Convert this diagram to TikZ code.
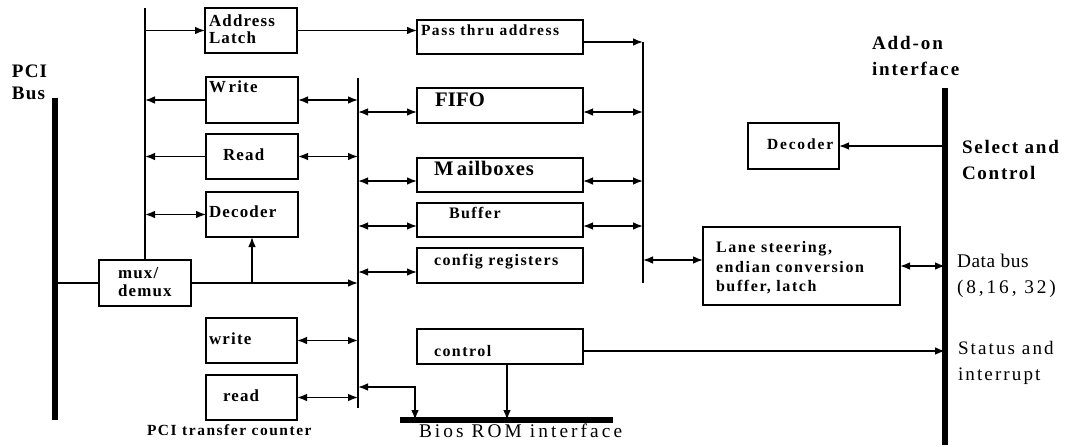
\documentclass[tikz,border=0pt]{standalone}
\usepackage{fontspec}
\setmainfont{Liberation Serif}
\usetikzlibrary{arrows.meta,calc}
\newcommand\lbfont[3]{\fontsize{#1}{#2}\selectfont\addfontfeature{LetterSpace=#3}}
\newcommand\mkbox[5]{\node[boxst, minimum width={(#4-#2)*0.75pt}, minimum height={(#5-#3)*0.75pt}] (#1) at (#2,#3) {};}
\tikzset{
  ln/.style={line width=1.25pt},
  busln/.style={line width=3.8pt},
  boxst/.style={draw, line width=1.15pt, inner sep=0pt, outer sep=0pt, anchor=north west},
  arw/.style={-{Latex[length=7.5pt,width=5.8pt]}},
  darw/.style={{Latex[length=7.5pt,width=5.8pt]}-{Latex[length=7.5pt,width=5.8pt]}},
  lbl/.style={inner sep=0pt, outer sep=0pt, anchor=mid west, align=left},
  bt/.style={font={\bfseries\lbfont{12.7}{13}{7}}},
}
\begin{document}
\begin{tikzpicture}[x=0.75pt,y=-0.75pt]
\useasboundingbox (0,0) rectangle (1073,446);
% boxes
\mkbox{alatch}{205}{8}{297}{53}
\mkbox{write}{206}{77}{298}{123}
\mkbox{read}{206}{134}{298}{179}
\mkbox{ldec}{206}{192}{298}{237}
\mkbox{mux}{99}{260}{191}{306}
\mkbox{wr2}{206}{318}{297}{363}
\mkbox{rd2}{206}{375}{297}{420}
\mkbox{pass}{417}{20}{583}{54}
\mkbox{fifo}{417}{88}{583}{123}
\mkbox{mail}{417}{158}{583}{192}
\mkbox{buf}{417}{203}{583}{237}
\mkbox{cfg}{417}{248}{583}{283}
\mkbox{ctrl}{417}{329}{583}{364}
\mkbox{lane}{703}{227}{900}{305}
\mkbox{rdec}{748}{123}{839}{169}
% bus end points
\coordinate (pciT) at (55,98);  \coordinate (pciB) at (55,420);
\coordinate (lbT) at (145,8);
\coordinate (mbT) at (358,78);  \coordinate (mbB) at (358,408);
\coordinate (b2T) at (643,42);  \coordinate (b2B) at (643,283);
\coordinate (aoT) at (945,88);  \coordinate (aoB) at (945,445);
\coordinate (romL) at (400,420); \coordinate (romR) at (613,420);
% buses
\draw[busln] (pciT) -- (pciB);
\draw[busln] (aoT) -- (aoB);
\draw[busln] (romL) -- (romR);
\draw[ln] (lbT) -- (lbT |- mux.north);
\draw[ln] (mbT) -- (mbB);
\draw[ln] (b2T) -- (b2B);
% left side connectors
\draw[ln,arw] (lbT |- alatch.west) -- (alatch.west);
\draw[ln,arw] (alatch.east) -- (pass.west |- alatch.east);
\draw[ln,arw] (write.west) -- (lbT |- write.west);
\draw[ln,darw] (write.east) -- (mbT |- write.east);
\draw[ln,arw] (read.west) -- (lbT |- read.west);
\draw[ln,darw] (read.east) -- (mbT |- read.east);
\draw[ln,darw] (lbT |- ldec.west) -- (ldec.west);
\draw[ln] (pciT |- mux.west) -- (mux.west);
\draw[ln,arw] (mux.east) -- (mbT |- mux.east);
\draw[ln,arw] (ldec.south |- mux.east) -- (ldec.south);
\draw[ln,darw] (wr2.east) -- (mbT |- wr2.east);
\draw[ln,darw] (rd2.east) -- (mbT |- rd2.east);
% middle bus to right boxes
\coordinate (cf) at ($(fifo.south west)+(0,-11)$);
\coordinate (cm) at ($(mail.south west)+(0,-11)$);
\coordinate (cb) at ($(buf.south west)+(0,-11)$);
\coordinate (cc) at ($(cfg.south west)+(0,-11)$);
\draw[ln,darw] (mbT |- cf) -- (cf);
\draw[ln,darw] (mbT |- cm) -- (cm);
\draw[ln,darw] (mbT |- cb) -- (cb);
\draw[ln,darw] (mbT |- cc) -- (cc);
\coordinate (pf) at ($(fifo.south east)+(0,-11)$);
\coordinate (pm) at ($(mail.south east)+(0,-11)$);
\coordinate (pb) at ($(buf.south east)+(0,-11)$);
\coordinate (pp) at ($(pass.south east)+(0,-12)$);
\draw[ln,arw] (pp) -- (b2T |- pp);
\draw[ln,darw] (pf) -- (b2T |- pf);
\draw[ln,darw] (pm) -- (b2T |- pm);
\draw[ln,darw] (pb) -- (b2T |- pb);
\coordinate (lw) at ($(lane.west)+(0,-6)$);
\draw[ln,darw] (b2T |- lw) -- (lw);
\draw[ln,darw] (lane.east) -- (aoT |- lane.east);
\draw[ln,arw] (aoT |- rdec.east) -- (rdec.east);
\coordinate (ce) at ($(ctrl.south east)+(0,-13)$);
\draw[ln,arw] (ce) -- (aoT |- ce);
\coordinate (cs) at ($(ctrl.south)+(7,0)$);
\draw[ln,arw] (cs) -- (cs |- romL);
\coordinate (mr) at ($(romL)+(15,0)$);
\coordinate (mm) at ($(rd2.north)+(0,12)$);
\draw[ln,darw] (mbT |- mm) -- (mr |- mm) -- (mr);
% texts
\node[lbl, anchor=west, font={\bfseries\lbfont{14.3}{16.5}{6}}] (tpci) at (12,82) {PCI\\Bus};
\node[lbl, anchor=west, font={\bfseries\lbfont{12.7}{12.75}{7}}] (talatch) at (209,29.5) {Address\\Latch};
\node[lbl, bt] (twrite) at (209,89) {W\kern2pt rite};
\node[lbl, bt] (tread) at (223,157) {Read};
\node[lbl, bt] (tldec) at (209,214) {Decoder};
\node[lbl, anchor=west, font={\bfseries\lbfont{12.7}{13.5}{7}}] (tmux) at (118,282) {mux/\\demux};
\node[lbl, bt] (twr2) at (209,341) {write};
\node[lbl, bt] (trd2) at (223,398) {read};
\node[lbl, font={\bfseries\lbfont{11.6}{13}{10}}] (tcnt) at (147,432) {PCI transfer counter};
\node[lbl, font={\bfseries\lbfont{11.6}{13}{10}}] (tpass) at (421,32) {Pass thru address};
\node[lbl, font={\bfseries\lbfont{15.5}{17}{1}}] (tfifo) at (435,103) {FIFO};
\node[lbl, font={\bfseries\lbfont{15.5}{17}{4}}] (tmail) at (434,172) {M\kern2.5pt ailboxes};
\node[lbl, font={\bfseries\lbfont{12}{13}{9}}] (tbuf) at (449,215) {Buffer};
\node[lbl, font={\bfseries\lbfont{12}{13}{9}}] (tcfg) at (434,262) {config registers};
\node[lbl, font={\bfseries\lbfont{12}{13}{9}}] (tctrl) at (434,353) {control};
\node[lbl, font={\lbfont{14.5}{16}{16}}] (trom) at (419,434) {Bios ROM interface};
\node[lbl, font={\bfseries\lbfont{11.6}{13}{12}}] (trdec) at (767,146) {Decoder};
\node[lbl, anchor=west, font={\bfseries\lbfont{12}{14.6}{10}}] (tlane) at (716,268) {Lane steering,\\endian conversion\\buffer, latch};
\node[lbl, anchor=west, font={\bfseries\lbfont{14.3}{20}{10}}] (tadd) at (872,56) {Add-on\\interface};
\node[lbl, anchor=west, font={\bfseries\lbfont{14.3}{19.5}{9}}] (tsel) at (962,160) {Select and\\Control};
\node[lbl, anchor=west, font={\lbfont{14.5}{19.5}{3}}] (tdata) at (957,276) {Data bus\\{\addfontfeature{LetterSpace=15}(8,16, 32)}};
\node[lbl, anchor=west, font={\lbfont{14.3}{19.5}{11}}] (tstat) at (958,363) {Status and\\interrupt};
\end{tikzpicture}
\end{document}
